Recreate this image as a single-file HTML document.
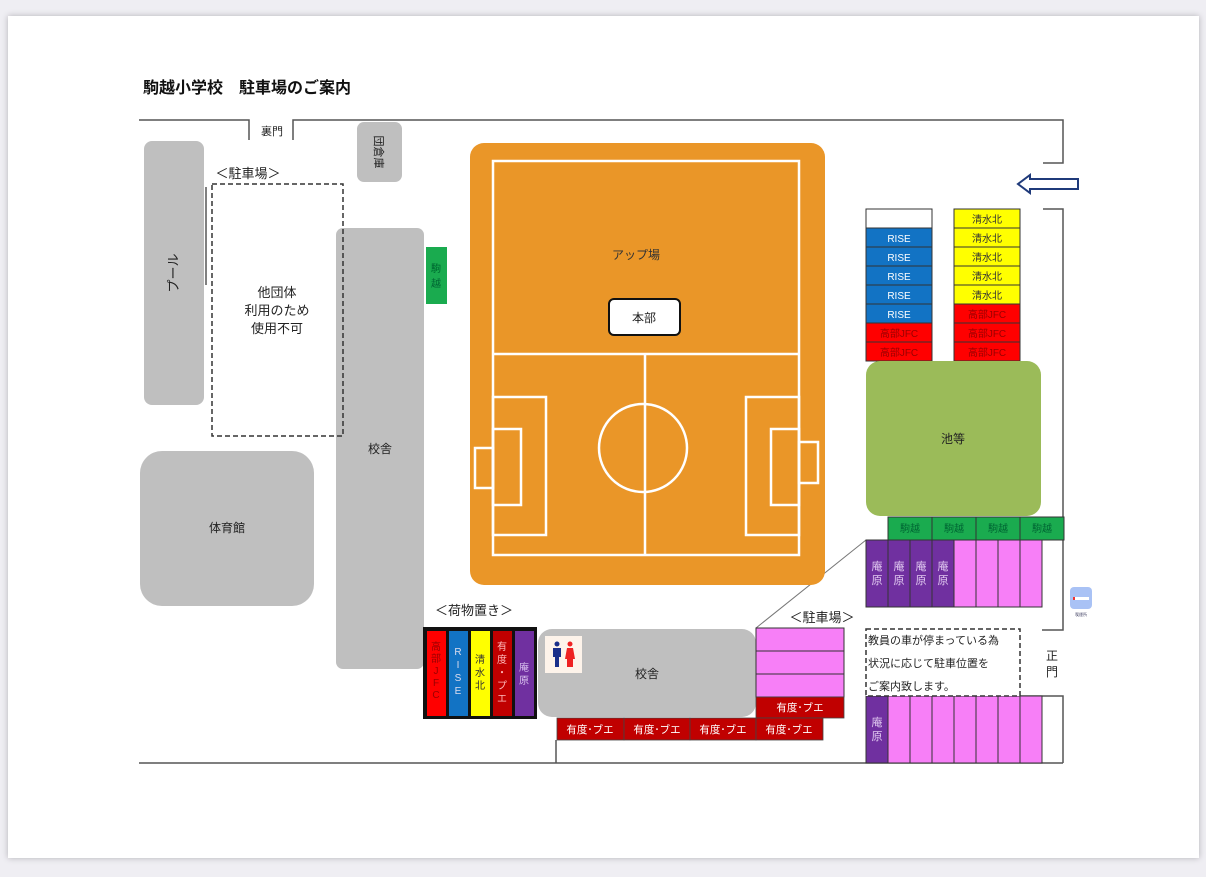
<!DOCTYPE html>
<html><head><meta charset="utf-8">
<style>
html,body{margin:0;padding:0;background:#efeef3;}
body{width:1206px;height:877px;overflow:hidden;position:relative;}
.page{position:absolute;left:8px;top:16px;width:1191px;height:842px;background:#fff;box-shadow:0 0 6px rgba(0,0,0,0.25);}
svg{position:absolute;left:0;top:0;}
text{font-family:"Liberation Sans","Noto Sans CJK JP",sans-serif;}
</style></head><body>
<div class="page"></div>
<svg width="1206" height="877" viewBox="0 0 1206 877">
<g font-family="Liberation Sans, Noto Sans CJK JP, sans-serif">
<text x="143" y="93" font-size="16" font-weight="bold" fill="#111">駒越小学校　駐車場のご案内</text>

<!-- walls -->
<g stroke="#555" stroke-width="1.5" fill="none">
<polyline points="139,120 249,120 249,140"/>
<polyline points="293,140 293,120 1063,120 1063,163 1043,163"/>
<polyline points="1043,209 1063,209 1063,630 1042,630"/>
<polyline points="866,696 1063,696 1063,763"/>
<line x1="139" y1="763" x2="1063" y2="763"/>
<line x1="556" y1="740" x2="556" y2="763"/>
<line x1="206" y1="187" x2="206" y2="285"/>
<line x1="866" y1="540" x2="756" y2="628" stroke-width="1" stroke="#777"/>
</g>
<text x="272" y="135" font-size="11" text-anchor="middle" fill="#222">裏門</text>

<!-- arrow -->
<path d="M1078,179 L1030,179 L1030,175 L1018,184 L1030,193 L1030,189 L1078,189 Z" fill="#fff" stroke="#1f3a7a" stroke-width="2"/>

<!-- gray buildings -->
<g fill="#bfbfbf">
<rect x="144" y="141" width="60" height="264" rx="8"/>
<rect x="357" y="122" width="45" height="60" rx="7"/>
<rect x="336" y="228" width="88" height="441" rx="7"/>
<rect x="140" y="451" width="174" height="155" rx="22"/>
<rect x="538" y="629" width="218" height="88" rx="14"/>
</g>
<text transform="translate(178,273) rotate(-90)" font-size="13" text-anchor="middle" fill="#222">プール</text>
<text transform="translate(375,152) rotate(90)" font-size="11" text-anchor="middle" fill="#222">団倉庫</text>
<text x="380" y="453" font-size="12" text-anchor="middle" fill="#222">校舎</text>
<text x="227" y="532" font-size="12" text-anchor="middle" fill="#222">体育館</text>
<text x="647" y="678" font-size="12" text-anchor="middle" fill="#222">校舎</text>

<!-- dashed parking -->
<text x="248" y="178" font-size="13" text-anchor="middle" fill="#222">＜駐車場＞</text>
<rect x="212" y="184" width="131" height="252" fill="none" stroke="#333" stroke-width="1.5" stroke-dasharray="5,3"/>
<text x="277" y="297" font-size="13" text-anchor="middle" fill="#222">他団体</text>
<text x="277" y="315" font-size="13" text-anchor="middle" fill="#222">利用のため</text>
<text x="277" y="333" font-size="13" text-anchor="middle" fill="#222">使用不可</text>

<!-- green 駒越 -->
<rect x="426" y="247" width="21" height="57" fill="#1aab4f"/>
<text x="436" y="272" font-size="10" text-anchor="middle" fill="#0a3">駒</text>
<text x="436" y="272" font-size="10" text-anchor="middle" fill="#063">駒</text>
<text x="436" y="287" font-size="10" text-anchor="middle" fill="#063">越</text>

<!-- field -->
<rect x="470" y="143" width="355" height="442" rx="14" fill="#ea9628"/>
<g stroke="#fff" stroke-width="2.5" fill="none">
<rect x="493" y="161" width="306" height="394"/>
<line x1="493" y1="354" x2="799" y2="354"/>
<line x1="645" y1="354" x2="645" y2="555"/>
<circle cx="643" cy="448" r="44"/>
<rect x="493" y="397" width="53" height="138"/>
<rect x="493" y="429" width="28" height="76"/>
<rect x="475" y="448" width="18" height="40"/>
<rect x="746" y="397" width="53" height="138"/>
<rect x="771" y="429" width="28" height="76"/>
<rect x="799" y="442" width="19" height="41"/>
</g>
<text x="636" y="259" font-size="12" text-anchor="middle" fill="#333">アップ場</text>
<rect x="609" y="299" width="71" height="36" rx="5" fill="#fff" stroke="#111" stroke-width="2"/>
<text x="644" y="322" font-size="12" text-anchor="middle" fill="#222">本部</text>

<!-- right columns -->
<g stroke="#333" stroke-width="1">
<rect x="866" y="209" width="66" height="19" fill="#fff"/>
<rect x="866" y="228" width="66" height="19" fill="#1273c4"/>
<rect x="866" y="247" width="66" height="19" fill="#1273c4"/>
<rect x="866" y="266" width="66" height="19" fill="#1273c4"/>
<rect x="866" y="285" width="66" height="19" fill="#1273c4"/>
<rect x="866" y="304" width="66" height="19" fill="#1273c4"/>
<rect x="866" y="323" width="66" height="19" fill="#f00"/>
<rect x="866" y="342" width="66" height="19" fill="#f00"/>
<rect x="954" y="209" width="66" height="19" fill="#ff0"/>
<rect x="954" y="228" width="66" height="19" fill="#ff0"/>
<rect x="954" y="247" width="66" height="19" fill="#ff0"/>
<rect x="954" y="266" width="66" height="19" fill="#ff0"/>
<rect x="954" y="285" width="66" height="19" fill="#ff0"/>
<rect x="954" y="304" width="66" height="19" fill="#f00"/>
<rect x="954" y="323" width="66" height="19" fill="#f00"/>
<rect x="954" y="342" width="66" height="19" fill="#f00"/>
</g>
<g font-size="10" text-anchor="middle">
<text x="899" y="242" fill="#fff">RISE</text><text x="899" y="261" fill="#fff">RISE</text><text x="899" y="280" fill="#fff">RISE</text><text x="899" y="299" fill="#fff">RISE</text><text x="899" y="318" fill="#fff">RISE</text>
<text x="899" y="337" fill="#900">高部JFC</text><text x="899" y="356" fill="#900">高部JFC</text>
<text x="987" y="223" fill="#333">清水北</text><text x="987" y="242" fill="#333">清水北</text><text x="987" y="261" fill="#333">清水北</text><text x="987" y="280" fill="#333">清水北</text><text x="987" y="299" fill="#333">清水北</text>
<text x="987" y="318" fill="#900">高部JFC</text><text x="987" y="337" fill="#900">高部JFC</text><text x="987" y="356" fill="#900">高部JFC</text>
</g>

<!-- pond -->
<rect x="866" y="361" width="175" height="155" rx="14" fill="#9bbb59"/>
<text x="953" y="443" font-size="12" text-anchor="middle" fill="#222">池等</text>

<!-- 駒越 row -->
<g stroke="#333" stroke-width="1" fill="#1aab4f">
<rect x="888" y="517" width="44" height="23"/><rect x="932" y="517" width="44" height="23"/><rect x="976" y="517" width="44" height="23"/><rect x="1020" y="517" width="44" height="23"/>
</g>
<g font-size="10" text-anchor="middle" fill="#063">
<text x="910" y="532">駒越</text><text x="954" y="532">駒越</text><text x="998" y="532">駒越</text><text x="1042" y="532">駒越</text>
</g>
<!-- purple/pink row -->
<g stroke="#333" stroke-width="1">
<rect x="866" y="540" width="22" height="67" fill="#7030a0"/><rect x="888" y="540" width="22" height="67" fill="#7030a0"/><rect x="910" y="540" width="22" height="67" fill="#7030a0"/><rect x="932" y="540" width="22" height="67" fill="#7030a0"/>
<rect x="954" y="540" width="22" height="67" fill="#f77ff7"/><rect x="976" y="540" width="22" height="67" fill="#f77ff7"/><rect x="998" y="540" width="22" height="67" fill="#f77ff7"/><rect x="1020" y="540" width="22" height="67" fill="#f77ff7"/>
<rect x="866" y="696" width="22" height="67" fill="#7030a0"/>
<rect x="888" y="696" width="22" height="67" fill="#f77ff7"/><rect x="910" y="696" width="22" height="67" fill="#f77ff7"/><rect x="932" y="696" width="22" height="67" fill="#f77ff7"/><rect x="954" y="696" width="22" height="67" fill="#f77ff7"/><rect x="976" y="696" width="22" height="67" fill="#f77ff7"/><rect x="998" y="696" width="22" height="67" fill="#f77ff7"/><rect x="1020" y="696" width="22" height="67" fill="#f77ff7"/>
</g>
<g font-size="11" text-anchor="middle" fill="#e0c8f0">
<text x="877" y="570">庵</text><text x="877" y="584">原</text>
<text x="899" y="570">庵</text><text x="899" y="584">原</text>
<text x="921" y="570">庵</text><text x="921" y="584">原</text>
<text x="943" y="570">庵</text><text x="943" y="584">原</text>
<text x="877" y="726">庵</text><text x="877" y="740">原</text>
</g>

<!-- note -->
<rect x="866" y="629" width="154" height="67" fill="#fff" stroke="#333" stroke-width="1.5" stroke-dasharray="5,3"/>
<g font-size="11" fill="#222">
<text x="868" y="644">教員の車が停まっている為</text>
<text x="868" y="667">状況に応じて駐車位置を</text>
<text x="868" y="690">ご案内致します。</text>
</g>
<text x="1052" y="660" font-size="12" text-anchor="middle" fill="#222">正</text>
<text x="1052" y="676" font-size="12" text-anchor="middle" fill="#222">門</text>

<!-- smoking -->
<rect x="1070" y="587" width="22" height="22" rx="4" fill="#a9c2f5"/>
<rect x="1073" y="597" width="16" height="3" fill="#fff"/>
<rect x="1073" y="597" width="2" height="3" fill="#e33"/>
<text x="1081" y="616" font-size="4" text-anchor="middle" fill="#446">喫煙所</text>

<!-- lower parking -->
<text x="822" y="622" font-size="13" text-anchor="middle" fill="#222">＜駐車場＞</text>
<g stroke="#333" stroke-width="1">
<rect x="756" y="628" width="88" height="23" fill="#f77ff7"/>
<rect x="756" y="651" width="88" height="23" fill="#f77ff7"/>
<rect x="756" y="674" width="88" height="23" fill="#f77ff7"/>
</g>
<g fill="#c00000" stroke="#444" stroke-width="0.8">
<rect x="756" y="697" width="88" height="21"/>
<rect x="557" y="718" width="67" height="22"/><rect x="624" y="718" width="66" height="22"/><rect x="690" y="718" width="66" height="22"/><rect x="756" y="718" width="67" height="22"/>
</g>
<g font-size="10.5" text-anchor="middle" fill="#fff">
<text x="800" y="711">有度･ブエ</text>
<text x="590" y="733">有度･ブエ</text><text x="657" y="733">有度･ブエ</text><text x="723" y="733">有度･ブエ</text><text x="789" y="733">有度･ブエ</text>
</g>

<!-- toilet -->
<rect x="545" y="636" width="37" height="37" fill="#fdf3ea"/>
<circle cx="557" cy="644" r="2.5" fill="#1a2f8a"/>
<path d="M553,648 h8 v9 h-2 v10 h-4 v-10 h-2 z" fill="#1a2f8a"/>
<circle cx="570" cy="644" r="2.5" fill="#e22"/>
<path d="M567,648 h6 l2,11 h-2 v8 h-6 v-8 h-2 z" fill="#e22"/>

<!-- 荷物置き -->
<text x="474" y="615" font-size="13" text-anchor="middle" fill="#222">＜荷物置き＞</text>
<rect x="423" y="627" width="114" height="92" fill="#111"/>
<rect x="427" y="631" width="19" height="85" fill="#f00"/>
<rect x="449" y="631" width="19" height="85" fill="#1273c4"/>
<rect x="471" y="631" width="19" height="85" fill="#ff0"/>
<rect x="493" y="631" width="19" height="85" fill="#c00000"/>
<rect x="515" y="631" width="19" height="85" fill="#7030a0"/>
<g font-size="10" text-anchor="middle">
<text x="436" y="650" fill="#900">高</text><text x="436" y="662" fill="#900">部</text><text x="436" y="674" fill="#900">J</text><text x="436" y="686" fill="#900">F</text><text x="436" y="698" fill="#900">C</text>
<text x="458" y="655" fill="#dde">R</text><text x="458" y="668" fill="#dde">I</text><text x="458" y="681" fill="#dde">S</text><text x="458" y="694" fill="#dde">E</text>
<text x="480" y="663" fill="#333">清</text><text x="480" y="676" fill="#333">水</text><text x="480" y="689" fill="#333">北</text>
<text x="502" y="650" fill="#fbb">有</text><text x="502" y="663" fill="#fbb">度</text><text x="502" y="676" fill="#fbb">・</text><text x="502" y="689" fill="#fbb">プ</text><text x="502" y="702" fill="#fbb">エ</text>
<text x="524" y="671" fill="#d8c0ee">庵</text><text x="524" y="684" fill="#d8c0ee">原</text>
</g>
</g>
</svg>
</body></html>
